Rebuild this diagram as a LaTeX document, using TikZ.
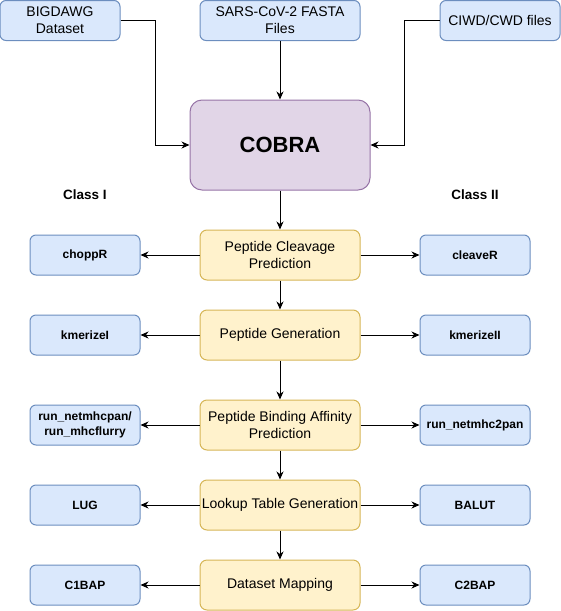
\documentclass[tikz,border=0pt]{standalone}
\usepackage{fontspec}
\setmainfont{Liberation Sans}
\usetikzlibrary{arrows.meta}
\definecolor{bfill}{HTML}{DAE8FC}
\definecolor{bline}{HTML}{6C8EBF}
\definecolor{yfill}{HTML}{FFF2CC}
\definecolor{yline}{HTML}{D6B656}
\definecolor{pfill}{HTML}{E1D5E7}
\definecolor{pline}{HTML}{9673A6}
\tikzset{
  x=1pt,y=1pt,
  bluebox/.style={draw=bline,fill=bfill,line width=1pt,rounded corners=6pt,minimum width=#1,minimum height=40pt,inner sep=0pt,align=center,font=\fontsize{14}{16.8}\selectfont},
  bluebox/.default=120pt,
  toolbox/.style={draw=bline,fill=bfill,line width=1pt,rounded corners=6pt,minimum width=110pt,minimum height=40pt,inner sep=0pt,align=center,font=\fontsize{12}{14.5}\selectfont\bfseries},
  stepbox/.style={draw=yline,fill=yfill,line width=1pt,rounded corners=7pt,minimum width=160pt,minimum height=50pt,inner sep=0pt,align=center,font=\fontsize{14}{16.8}\selectfont},
  cobrabox/.style={draw=pline,fill=pfill,line width=1pt,rounded corners=12pt,minimum width=180pt,minimum height=90pt,inner sep=0pt,font=\fontsize{22}{26}\selectfont\bfseries},
  classlbl/.style={font=\fontsize{13.5}{16}\selectfont\bfseries,inner sep=0pt},
  arr/.style={line width=1pt,-{Stealth[length=8pt,width=7pt,inset=2.5pt]}},
}
\begin{document}
\begin{tikzpicture}
\useasboundingbox (0,0) rectangle (561,-611);
\node[bluebox=120pt] (bigdawg) at (60,-20.5) {BIGDAWG\\Dataset};
\node[bluebox=160pt] (sars) at (280,-20.5) {SARS-CoV-2 FASTA\\Files};
\node[bluebox=120pt] (ciwd) at (500,-20.5) {CIWD/CWD files};
\node[cobrabox] (cobra) at (280,-145) {COBRA};
\node[classlbl] (c1) at (85,-195) {Class I};
\node[classlbl] (c2) at (475,-195) {Class II};

\node[stepbox] (s1) at (280,-255) {Peptide Cleavage\\Prediction};
\node[stepbox] (s2) at (280,-335) {Peptide Generation};
\node[stepbox] (s3) at (280,-425) {Peptide Binding Affinity\\Prediction};
\node[stepbox] (s4) at (280,-505) {Lookup Table Generation};
\node[stepbox] (s5) at (280,-585) {Dataset Mapping};

\node[toolbox] (l1) at (85,-255) {choppR};
\node[toolbox] (l2) at (85,-335) {kmerizeI};
\node[toolbox] (l3) at (85,-425) {run\_netmhcpan/\\run\_mhcflurry};
\node[toolbox] (l4) at (85,-505) {LUG};
\node[toolbox] (l5) at (85,-585) {C1BAP};

\node[toolbox] (r1) at (475,-255) {cleaveR};
\node[toolbox] (r2) at (475,-335) {kmerizeII};
\node[toolbox] (r3) at (475,-425) {run\_netmhc2pan};
\node[toolbox] (r4) at (475,-505) {BALUT};
\node[toolbox] (r5) at (475,-585) {C2BAP};

\draw[arr] (bigdawg.east) -- ++(35,0) |- (cobra.west);
\draw[arr] (ciwd.west) -- ++(-35,0) |- (cobra.east);
\draw[arr] (sars) -- (cobra);
\draw[arr] (cobra) -- (s1);
\draw[arr] (s1) -- (s2);
\draw[arr] (s2) -- (s3);
\draw[arr] (s3) -- (s4);
\draw[arr] (s4) -- (s5);
\foreach \i in {1,...,5}{
  \draw[arr] (s\i) -- (l\i);
  \draw[arr] (s\i) -- (r\i);
}
\end{tikzpicture}
\end{document}
